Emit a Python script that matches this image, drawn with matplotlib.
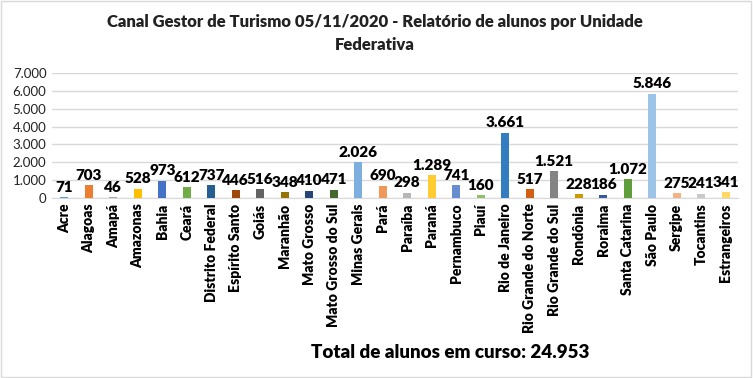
import matplotlib
matplotlib.use("Agg")
import matplotlib.pyplot as plt
from matplotlib.patches import Rectangle

estados = ["Acre", "Alagoas", "Amapá", "Amazonas", "Bahia", "Ceará",
           "Distrito Federal", "Espírito Santo", "Goiás", "Maranhão",
           "Mato Grosso", "Mato Grosso do Sul", "Minas Gerais", "Pará",
           "Paraíba", "Paraná", "Pernambuco", "Piauí", "Rio de Janeiro",
           "Rio Grande do Norte", "Rio Grande do Sul", "Rondônia", "Roraima",
           "Santa Catarina", "São Paulo", "Sergipe", "Tocantins", "Estrangeiros"]
alunos = [71, 703, 46, 528, 973, 612, 737, 446, 516, 348, 410, 471, 2026, 690,
          298, 1289, 741, 160, 3661, 517, 1521, 228, 186, 1072, 5846, 275, 241, 341]
cores = ["#5B9BD5", "#ED7D31", "#A5A5A5", "#FFC000", "#4472C4", "#70AD47",
         "#255E91", "#9E480E", "#636363", "#997300", "#264478", "#43682B",
         "#7CAFDD", "#F1975A", "#B7B7B7", "#FFCD33", "#698ED0", "#8CC168",
         "#327DC2", "#D26012", "#848484", "#CC9A00", "#335AA1", "#5F9E3B",
         "#9DC3E6", "#F4B183", "#C9C9C9", "#FFD966"]
total = "24.953"

def fmt(v):
    return "{:,}".format(v).replace(",", ".")

plt.rcParams['font.family'] = ['Lato', 'DejaVu Sans']

fig = plt.figure(figsize=(7.53, 3.78), dpi=100)
ax = fig.add_axes([52/753, 1-198/378, (738-52)/753, (198-73)/378])

x = range(len(estados))
ax.bar(x, alunos, width=0.33, color=cores, zorder=3)
for i, v in enumerate(alunos):
    ax.text(i, v + 180, fmt(v), ha='center', va='bottom',
            fontsize=11, fontweight='heavy', color='black')

ax.set_xlim(-0.5, len(estados) - 0.5)
ax.set_ylim(0, 7000)
ax.set_yticks(range(0, 7001, 1000))
ax.set_yticklabels([fmt(t) for t in range(0, 7001, 1000)], fontsize=9.5, color='#222222')
ax.set_xticks(list(x))
ax.set_xticklabels(estados, rotation=90, fontsize=10, fontweight='heavy')
ax.grid(axis='y', color='#D9D9D9', linewidth=1, zorder=0)
for s in ['top', 'right', 'left']:
    ax.spines[s].set_visible(False)
ax.spines['bottom'].set_color('#D9D9D9')
ax.tick_params(axis='both', length=0, pad=4)

fig.text(0.498, 1-22/378, "Canal Gestor de Turismo 05/11/2020 - Relatório de alunos por Unidade",
         ha='center', va='center', fontsize=12, fontweight='heavy', color='#222222')
fig.text(0.498, 1-45/378, "Federativa", ha='center', va='center',
         fontsize=12, fontweight='heavy', color='#222222')
fig.text(450/753, 1-352/378, "Total de alunos em curso: " + total, ha='center', va='center',
         fontsize=13.5, fontweight='heavy', color='black')

fig.patches.append(Rectangle((0.001, 0.002), 0.996, 0.995, transform=fig.transFigure,
                             fill=False, edgecolor='#D9D9D9', linewidth=1))

fig.savefig("out.png", dpi=100)
